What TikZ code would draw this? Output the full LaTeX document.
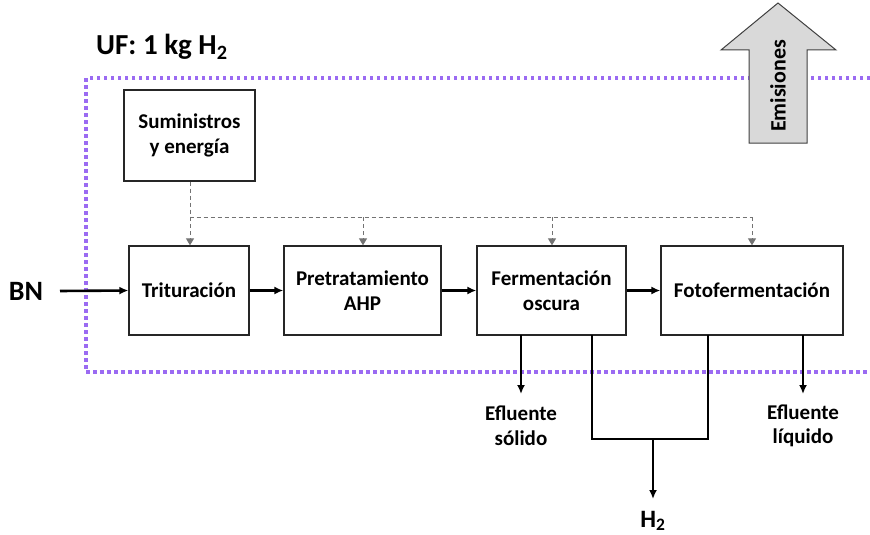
\documentclass[tikz,border=0pt]{standalone}
\usepackage{fontspec}
\setmainfont{Carlito}
\usetikzlibrary{arrows.meta}
\definecolor{bnd}{HTML}{9B6BF2}
\definecolor{emi}{HTML}{D9D9D9}
\tikzset{
  box/.style={draw=black!85, line width=1.3pt, align=center, font=\bfseries\fontsize{21}{24.5}\selectfont, inner sep=0pt},
  flow/.style={line width=2.6pt, -{Latex[length=9pt,width=8pt]}},
  sup/.style={draw=black!55, line width=1pt, dash pattern=on 4pt off 3pt, -{Triangle[length=7pt,width=8pt]}},
  lbl/.style={font=\bfseries\fontsize{21}{24.5}\selectfont, align=center, inner sep=0pt},
}
\begin{document}
\begin{tikzpicture}[x=1pt,y=-1pt]
\useasboundingbox (0,0) rectangle (870,535);
% system boundary
\draw[bnd, line width=3.5pt, dash pattern=on 3.5pt off 3.5pt] (870,78) -- (86,78) -- (86,372) -- (870,372);
% emissions arrow
\draw[fill=emi, draw=black!75, line width=1pt] (749,143) -- (749,50) -- (721,50) -- (778,3) -- (836,50) -- (807,50) -- (807,143) -- cycle;
\node[rotate=90, font=\bfseries\fontsize{22}{26}\selectfont, inner sep=0pt] (emis) at (778,86) {Emisiones};
% title
\node[anchor=west, font=\bfseries\fontsize{29}{34}\selectfont, inner sep=0pt] (uf) at (96,47) {UF: 1 kg H$_{\mathbf 2}$};
% boxes
\node[box, minimum width=131, minimum height=91] (sum) at (189.5,135.5) {Suministros\\y energía};
\node[box, minimum width=120, minimum height=89] (tri) at (189,290.5) {Trituración};
\node[box, minimum width=157, minimum height=89] (pre) at (362.5,290.5) {Pretratamiento\\AHP};
\node[box, minimum width=149, minimum height=89] (fer) at (551.5,290.5) {Fermentación\\oscura};
\node[box, minimum width=182, minimum height=89] (foto) at (752,290.5) {Fotofermentación};
% BN
\node[font=\bfseries\fontsize{28}{32}\selectfont, inner sep=0pt] (bn) at (26,291) {BN};
\coordinate (bnS) at (60,291);
\draw[flow] (bnS) -- (tri.west);
\draw[flow] (tri) -- (pre);
\draw[flow] (pre) -- (fer);
\draw[flow] (fer) -- (foto);
% supplies dashed
\coordinate (j0) at (190,217);
\coordinate (j1) at (363,217);
\coordinate (j2) at (552,217);
\coordinate (j3) at (752,217);
\draw[draw=black!55, line width=1pt, dash pattern=on 4pt off 3pt] (sum.south -| j0) -- (j0) -- (j3);
\draw[sup] (j0) -- (tri.north -| j0);
\draw[sup] (j1) -- (pre.north -| j1);
\draw[sup] (j2) -- (fer.north -| j2);
\draw[sup] (j3) -- (foto.north -| j3);
% outputs
\node[lbl] (es) at (521,426) {Efluente\\sólido};
\node[lbl] (el) at (803,426) {Efluente\\líquido};
\node[font=\bfseries\fontsize{25}{30}\selectfont, inner sep=0pt] (h2) at (653,521) {H$_{\mathbf 2}$};
\coordinate (esT) at (521,335);
\coordinate (esE) at (521,394);
\draw[flow] (esT) -- (esE);
\coordinate (elT) at (803,335);
\coordinate (elE) at (803,394);
\draw[flow] (elT) -- (elE);
\coordinate (h2a) at (592,335);
\coordinate (h2b) at (708,335);
\coordinate (h2m) at (653,439);
\coordinate (h2e) at (653,499);
\draw[line width=2.6pt] (h2a) -- (592,439) -- (708,439) -- (h2b);
\draw[flow] (h2m) -- (h2e);
\end{tikzpicture}
\end{document}
